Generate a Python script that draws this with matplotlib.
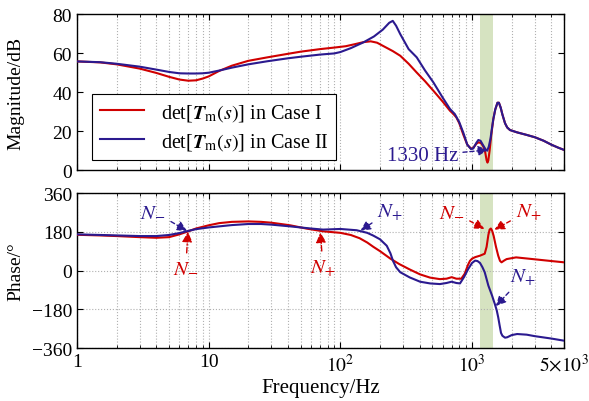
import numpy as np
import matplotlib.pyplot as plt
from matplotlib.ticker import FixedLocator, LogLocator, NullFormatter

plt.rcParams['font.family'] = ['Liberation Serif', 'DejaVu Serif']
plt.rcParams['mathtext.fontset'] = 'stix'
plt.rcParams['font.size'] = 14

# Magnitude (dB)
f_mag_1 = [1, 1.5, 2, 3, 4, 5, 6, 7, 8, 9, 10, 12, 15, 20, 28, 40, 50, 70, 90, 110, 130, 150, 170, 190,
           220, 250, 285, 330, 380, 440, 508, 600, 680, 720, 760, 800, 860, 920, 980, 1020, 1080, 1120,
           1170, 1220, 1260, 1290, 1310, 1330, 1360, 1400, 1450, 1500, 1560, 1600, 1650, 1700, 1780, 1850,
           1942, 2200, 2600, 3000, 3500, 4000, 4500, 5000]
mag_1 = [55.7, 55.2, 54.2, 52.0, 49.8, 47.8, 46.4, 45.8, 46.0, 46.9, 48.0, 50.8, 53.5, 56.0, 57.8, 59.6,
         60.7, 62.0, 62.8, 63.5, 64.6, 65.6, 66.0, 65.3, 63.0, 61.0, 58.6, 54.5, 50.0, 45.5, 40.7, 35.0,
         30.4, 28.8, 27.0, 24.0, 18.0, 13.0, 11.0, 11.3, 13.5, 14.2, 13.8, 12.0, 9.0, 5.0, 3.8, 5.0, 10.0,
         18.0, 26.0, 31.0, 34.5, 34.5, 32.0, 28.5, 24.0, 21.8, 20.5, 19.3, 18.0, 16.8, 15.0, 13.0, 11.5, 10.3]
f_mag_2 = [1, 1.5, 2, 3, 4, 5, 6, 7, 8, 9, 10, 12, 15, 20, 28, 40, 50, 70, 90, 100, 120, 150, 180, 210,
           235, 250, 265, 285, 330, 380, 440, 508, 600, 680, 740, 800, 860, 920, 980, 1020, 1080, 1117,
           1160, 1218, 1270, 1303, 1340, 1380, 1420, 1450, 1500, 1560, 1600, 1650, 1700, 1780, 1850,
           1942, 2200, 2600, 3000, 3500, 4000, 4500, 5000]
mag_2 = [55.7, 55.3, 54.5, 53.0, 51.5, 50.3, 49.6, 49.5, 49.5, 49.6, 49.9, 51.0, 52.5, 54.2, 55.8, 57.3,
         58.1, 59.2, 59.8, 60.5, 62.5, 65.5, 68.5, 72.0, 75.5, 76.5, 74.0, 69.7, 62.0, 57.8, 51.0, 45.0,
         37.0, 31.3, 28.7, 24.5, 19.0, 13.0, 10.8, 11.0, 14.0, 15.4, 15.0, 12.5, 10.5, 9.9, 12.0, 16.0,
         21.9, 26.0, 31.0, 34.5, 34.5, 32.0, 28.5, 24.0, 21.8, 20.5, 19.3, 18.0, 16.8, 15.0, 13.0, 11.5, 10.3]

# Phase (deg)
f_ph_1 = [1, 1.5, 2, 3, 4, 5, 6, 7, 8, 10, 12, 15, 20, 25, 30, 41.6, 55, 74, 100, 120, 140, 160, 178, 200,
          240, 280, 336, 403, 480, 570, 640, 700, 760, 829, 880, 930, 965, 1000, 1055, 1150, 1248, 1290,
          1330, 1360, 1390, 1420, 1460, 1520, 1580, 1630, 1675, 1750, 1830, 2160, 3000, 4000, 5000]
ph_1 = [166, 163, 160, 155, 152, 155, 168, 182, 195, 210, 220, 226, 228, 226, 222, 210, 195, 182, 175, 165,
        150, 130, 110, 90, 55, 30, 5, -18, -33, -40, -38, -31, -38, -38, -15, 25, 45, 55, 62, 69, 78, 110,
        165, 190, 195, 185, 160, 110, 69, 45, 38, 46, 53, 61, 52, 44, 38]
f_ph_2 = [1, 2, 3, 4, 5, 6, 7, 8, 10, 15, 20, 25, 30, 41.6, 60, 74, 100, 133, 160, 178, 200, 225, 240, 251,
          265, 285, 336, 403, 480, 570, 640, 700, 760, 810, 870, 935, 1000, 1055, 1100, 1150, 1200, 1248,
          1290, 1330, 1420, 1490, 1540, 1580, 1620, 1660, 1700, 1780, 1850, 2000, 2200, 2600, 3000, 4000,
          5000]
ph_2 = [168, 163, 160, 160, 165, 174, 184, 192, 200, 211, 216, 216, 213, 205, 195, 190, 193, 187, 175, 162,
        145, 115, 80, 45, 15, -8, -32, -52, -60, -63, -58, -52, -58, -60, -30, 7, 35, 46, 44, 35, 15, -8,
        -40, -70, -117, -156, -185, -217, -255, -290, -303, -312, -310, -300, -295, -298, -305, -316, -326]

band = (1150, 1450)
red = '#d00000'
blue = '#2b1a8f'
green = '#d6e3c1'

fig = plt.figure(figsize=(5.89, 4.02), dpi=100)
ax1 = fig.add_axes([0.1307, 0.5746, 0.827, 0.388])
ax2 = fig.add_axes([0.1307, 0.1318, 0.827, 0.3856])

ax1.plot(f_mag_1, mag_1, color=red, lw=1.5, label=r'det[$\boldsymbol{T}_\mathrm{m}(s)$] in Case I', zorder=3)
ax1.plot(f_mag_2, mag_2, color=blue, lw=1.5, label=r'det[$\boldsymbol{T}_\mathrm{m}(s)$] in Case II', zorder=3)
ax2.plot(f_ph_1, ph_1, color=red, lw=1.5, zorder=3)
ax2.plot(f_ph_2, ph_2, color=blue, lw=1.5, zorder=3)

for ax in (ax1, ax2):
    ax.set_xscale('log')
    ax.set_xlim(1, 5000)
    ax.axvspan(band[0], band[1], color=green, lw=0, zorder=0.5)
    ax.xaxis.set_major_locator(FixedLocator([1, 10, 100, 1000, 5000]))
    ax.xaxis.set_minor_locator(LogLocator(base=10, subs=np.arange(2, 10)))
    ax.xaxis.set_minor_formatter(NullFormatter())
    ax.tick_params(which='both', direction='in', top=True, right=True, labelsize=14)
    ax.tick_params(which='major', length=4)
    ax.tick_params(which='minor', length=2.5)
    ax.grid(True, axis='x', which='both', color='#b0b0b0', ls=':', lw=0.8)
    ax.yaxis.set_label_coords(-0.107, 0.5)
    for s in ax.spines.values():
        s.set_linewidth(1.0)

ax1.set_ylim(0, 80)
ax1.set_yticks([0, 20, 40, 60, 80])
ax1.set_xticklabels([])
ax1.set_ylabel('Magnitude/dB', fontsize=14)
ax1.legend(loc='lower left', bbox_to_anchor=(0.031, 0.064), borderaxespad=0, fancybox=False,
           edgecolor='black', framealpha=1, fontsize=14.5, handlelength=2.2, borderpad=0.4,
           labelspacing=0.4)
ax1.legend_.get_frame().set_linewidth(0.8)
ax1.annotate('1330 Hz', xy=(1323, 10.3), xytext=(425, 7.2), color=blue, fontsize=15,
             ha='center', va='center',
             arrowprops=dict(arrowstyle='-|>', ls=(0, (3, 2)), color=blue, lw=1, shrinkA=1, shrinkB=0))

ax2.set_ylim(-360, 360)
ax2.set_yticks([-360, -180, 0, 180, 360])
ax2.set_yticklabels(['\u2212360', '\u2212180', '0', '180', '360'])
ax2.grid(True, axis='y', color='#b0b0b0', ls=':', lw=0.8)
ax2.set_xticklabels(['1', '10', r'$10^2$', r'$10^3$', r'$5{\times}10^3$'])
ax2.set_ylabel('Phase/\u00b0', fontsize=14)
ax2.set_xlabel('Frequency/Hz', fontsize=15, labelpad=2)

dash = (0, (3, 2))
dashdot = (0, (4, 1.5, 1, 1.5))
notes = [
    (r'$N_{-}$', (6.84, 184), (3.78, 276), blue, dash),
    (r'$N_{-}$', (6.96, 180), (6.7, 12), red, dashdot),
    (r'$N_{+}$', (70.5, 177), (73.8, 16), red, dashdot),
    (r'$N_{+}$', (142, 185), (238, 276), blue, dash),
    (r'$N_{-}$', (1240, 193), (702, 276), red, dash),
    (r'$N_{+}$', (1480, 190), (2680, 276), red, dash),
    (r'$N_{+}$', (1515, -165), (2450, -30), blue, dash),
]
for txt, xy, xytext, c, ls in notes:
    ax2.annotate(txt, xy=xy, xytext=xytext, color=c, fontsize=15, ha='center', va='center',
                 arrowprops=dict(arrowstyle='-|>', ls=ls, color=c, lw=1, shrinkA=2, shrinkB=0))

fig.savefig('out.png', dpi=100)
